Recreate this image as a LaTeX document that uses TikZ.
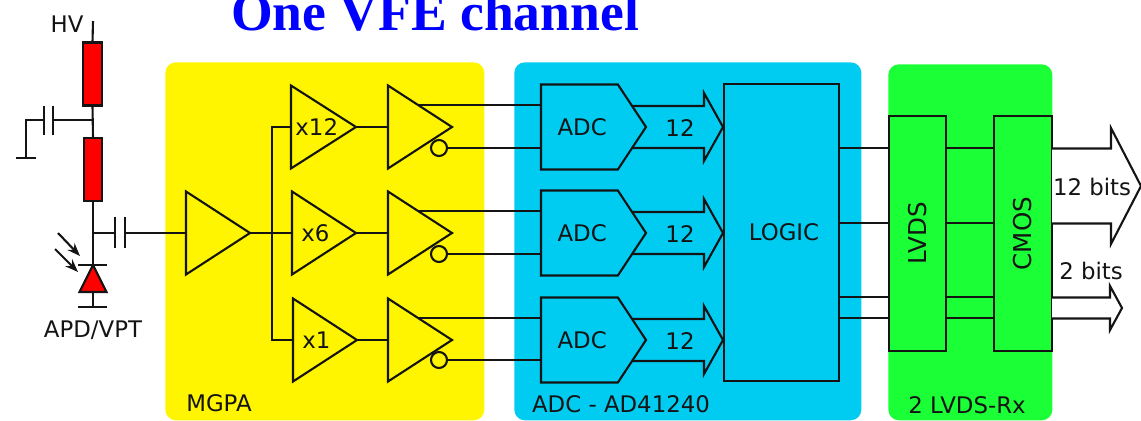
\documentclass[tikz,border=0pt]{standalone}
\usepackage{fontspec}
\setmainfont{DejaVu Sans}
\newfontfamily\titlefont{Liberation Serif}
\usetikzlibrary{arrows.meta,positioning,shapes.geometric,shapes.symbols}
\definecolor{mgpa}{RGB}{255,245,0}
\definecolor{adcblue}{RGB}{0,204,242}
\definecolor{lvds}{RGB}{27,255,54}
\definecolor{res}{RGB}{255,0,0}
\definecolor{ink}{RGB}{20,20,20}
\tikzset{
  >={Stealth[length=2.6mm]},
  wire/.style={draw=ink,line width=1.2pt},
  lbl/.style={font=\fontsize{13}{15}\selectfont,text=ink,inner sep=0pt},
  panel/.style={fill=#1,rounded corners=6pt,minimum height=7.16cm,anchor=north west,inner sep=0pt},
  res box/.style={wire,fill=res,minimum width=0.37cm,minimum height=1.26cm,inner sep=0pt,outer sep=0pt},
  amp/.style={wire,isosceles triangle,isosceles triangle stretches,shape border rotate=0,anchor=apex,
    minimum width=1.66cm,minimum height=1.28cm,inner sep=0pt,outer sep=0pt,lbl},
  adc/.style={wire,signal,signal to=east,signal pointer angle=113,anchor=west,fill=adcblue,
    minimum width=2.1cm,minimum height=1.7cm,inner sep=0pt,outer sep=0pt,lbl},
  rx box/.style={wire,minimum width=1.15cm,minimum height=4.69cm,inner sep=0pt,outer sep=0pt,lbl,font=\fontsize{14}{16}\selectfont},
  % tail length, head length, half shaft, half head, fill
  pics/bus/.style n args={5}{code={
    \draw[wire,fill=#5] (-#1,-#3) -- (-#2,-#3) -- (-#2,-#4) -- (0,0) -- (-#2,#4) -- (-#2,#3) -- (-#1,#3);
  }},
}
\begin{document}
\begin{tikzpicture}[x=0.02cm,y=-0.02cm]
  \useasboundingbox (0,0) rectangle (1141,420);
  % panels
  \node[panel=mgpa,minimum width=6.38cm] (pmgpa) at (165,62) {};
  \node[panel=adcblue,minimum width=6.94cm] (padc) at (514,62) {};
  \node[panel=lvds,minimum width=3.28cm,minimum height=7.12cm] (plvds) at (888,64) {};
  \node[lbl] (lmgpa) at (219,403) {MGPA};
  \node[lbl] (ladc) at (621,404) {ADC - AD41240};
  \node[lbl] (lrx) at (967,405) {2 LVDS-Rx};
  \node[font=\titlefont\fontsize{30.5}{32}\selectfont\bfseries,text=blue,anchor=base,inner sep=0pt] (title) at (435,30) {One VFE channel};
  % detector
  \coordinate (hv) at (93,21);
  \node[lbl] (lhv) at (67,24) {HV};
  \node[res box] (r1) at (92.5,74) {};
  \node[res box] (r2) at (93,169.5) {};
  \draw[wire] (hv) -- (r1.north);
  \draw[wire] (r1.south) -- (r2.north);
  \coordinate (fcap) at (92.5,120);
  \coordinate (gnd) at (26,158);
  \draw[wire] (fcap) -- (53,120) (53,106) -- (53,135) (44,106) -- (44,135);
  \draw[wire] (44,120) -| (gnd);
  \draw[wire] (16,158) -- (36,158);
  \node[wire,fill=res,isosceles triangle,isosceles triangle stretches,shape border rotate=90,anchor=apex,
    minimum width=0.54cm,minimum height=0.54cm,inner sep=0pt,outer sep=0pt] (apd) at (93,265) {};
  \draw[wire] (r2.south) -- (apd.apex);
  \draw[wire] (78,265) -- (107,265) (78,307) -- (107,307);
  \draw[wire] (apd.lower side) -- (93,307);
  \foreach \i/\xa/\ya/\xb/\yb in {1/58/233/80/256,2/55/249/78/272}{
    \coordinate (pa\i) at (\xa,\ya);
    \coordinate (pb\i) at (\xb,\yb);
    \draw[wire,->] (pa\i) -- (pb\i);
  }
  \node[lbl] (lapd) at (93,330) {APD/VPT};
  % preamp
  \node[amp] (preamp) at (250,233) {};
  \coordinate (tap) at (93,233);
  \draw[wire] (tap) -- (115,233) (115,217) -- (115,248) (125,217) -- (125,248);
  \draw[wire] (125,233) -- (preamp.lower side);
  \coordinate (split) at (272,233);
  \draw[wire] (preamp.apex) -- (split);
  % three gain channels
  \foreach \g/\yc/\ya/\yb/\dx [count=\i from 1] in {x12/127/105/148/0,x6/233/211/254/0,x1/340/318/360/1}{
    \node[amp] (gain\i) at (356+\dx,\yc) {\hspace{0.04cm}\g};
    \node[amp] (drv\i) at (452,\yc) {};
    \draw[wire] (gain\i.apex) -- (drv\i.lower side);
    \draw[wire] (split) |- (gain\i.lower side);
    \node[wire,circle,fill=mgpa,minimum size=0.32cm,inner sep=0pt,outer sep=0pt] (inv\i) at (439,\yb) {};
    \coordinate (bus\i) at (723,\yc);
    \pic at (bus\i) {bus={93}{19}{21}{34}{adcblue}};
    \node[lbl] (n\i) at (680,\yc+1) {12};
    \node[adc] (adc\i) at (541,\yc) {\hspace{0.11cm}ADC};
    \coordinate (dp\i) at (418,\ya);
    \draw[wire] (dp\i) -- (dp\i -| adc\i.west);
    \draw[wire] (inv\i.east) -- (inv\i.east -| adc\i.west);
  }
  % logic and receiver
  \node[wire,minimum width=2.3cm,minimum height=5.94cm,inner sep=0pt,outer sep=0pt,lbl] (logic) at (781.5,232.5) {\raisebox{-0.03cm}{\hspace{0.1cm}LOGIC}};
  \node[rx box] (lvdsrx) at (917.5,233.5) {\rotatebox{90}{LVDS}};
  \node[rx box] (cmos) at (1023,233.5) {\rotatebox{90}{CMOS}};
  \foreach \y in {148,223,297,318}{
    \draw[wire] (logic.east |- 0,\y) -- (lvdsrx.west |- 0,\y);
    \draw[wire] (lvdsrx.east |- 0,\y) -- (cmos.west |- 0,\y);
  }
  % outputs
  \coordinate (out1) at (1141,186);
  \coordinate (out2) at (1122,308);
  \pic at (out1) {bus={89}{30}{37.5}{58}{white}};
  \pic at (out2) {bus={70}{12}{10.5}{22}{white}};
  \node[lbl] (lout1) at (1092,187) {12 bits};
  \node[lbl] (lout2) at (1091,271) {2 bits};
\end{tikzpicture}
\end{document}
